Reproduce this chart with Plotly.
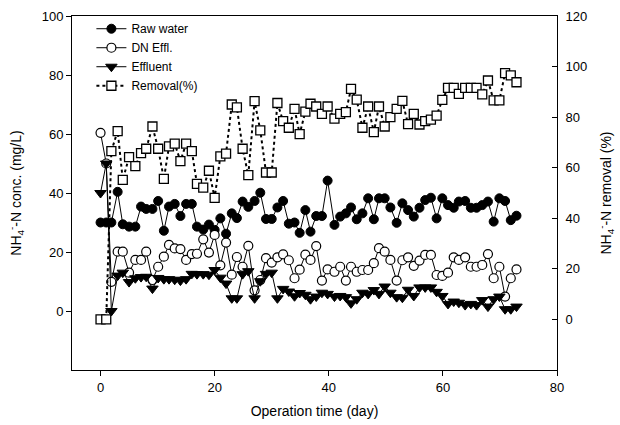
import plotly.graph_objects as go

days = [0, 1.0, 1.9, 3.0, 3.9, 5.0, 6.1, 7.1, 8.0, 9.1, 10.1, 11.1, 12.0, 13.0, 14.0,
        15.0, 16.0, 16.9, 18.0, 19.0, 20.0, 21.0, 22.0, 23.0, 23.9, 24.9, 25.9, 27.0,
        28.0, 29.0, 30.0, 31.0, 32.0, 33.0, 34.0, 34.9, 35.9, 36.8, 37.8, 38.8, 39.8,
        41.0, 42.0, 43.0, 43.9, 44.9, 45.9, 46.9, 47.9, 48.8, 49.8, 50.8, 51.9, 52.9,
        53.9, 54.9, 55.9, 56.9, 57.9, 58.9, 59.9, 60.9, 61.9, 62.8, 63.9, 64.9, 65.9,
        66.9, 67.9, 68.9, 69.9, 70.9, 71.9, 72.9]

raw_water = [30, 30, 30, 40.4, 29.4, 28.6, 28.6, 35.4, 34.6, 34.6,
             37.3, 27.2, 35.4, 36.3, 32.2, 36.3, 36.3, 28.6, 27.6, 29.3,
             27.5, 31.4, 26.2, 33.1, 31.5, 37.1, 35.3, 37.3, 40.1, 31.2,
             31.2, 35.1, 37.3, 29.6, 30.0, 26.5, 34.2, 26.9, 32.2, 32.2,
             44.2, 29.2, 32.0, 33.1, 35.1, 31.1, 33.1, 38.2, 31.1, 38.2,
             38.2, 35.1, 29.9, 36.5, 34.2, 32.0, 35.0, 37.6, 38.4, 31.4,
             38.2, 35.9, 35.0, 37.1, 37.3, 35.0, 35.0, 35.9, 37.1, 30.3,
             38.2, 37.3, 30.8, 32.3]

dn_effl = [60.4, 50, 9.9, 20.1, 20.1, 13, 17.3, 17.3, 20.1, 10.5,
           15, 18.4, 22.4, 21.2, 21.0, 17.3, 19.3, 19.4, 24.3, 19.8,
           25.8, 15.5, 23.2, 12.3, 18.3, 15.0, 22.1, 7.0, 10.5, 17.9,
           16.4, 18.2, 19.2, 17.2, 11.1, 14.0, 19.1, 17.3, 22.0, 10.3,
           14.1, 13.3, 15.0, 10.3, 15.0, 13.3, 13.9, 13.9, 16.2, 21.3,
           20.1, 17.3, 10.3, 17.2, 18.2, 15.3, 17.1, 19.0, 19.0, 12.2,
           11.9, 13.0, 18.2, 17.3, 18.2, 15.0, 15.0, 15.6, 19.3, 11.1,
           15.0, 4.9, 11.1, 14.1]

effluent = [40, 50, 0, 12, 13, 9.8, 11.1, 11.5, 11.6, 7.6,
            11.2, 10.8, 10.8, 10.6, 10.3, 10.8, 12.6, 12.5, 12.5, 12.3,
            13.9, 11.3, 9.3, 4.3, 4.3, 12.5, 13.5, 4.3, 10.1, 12.6,
            13.0, 4.3, 7.5, 6.6, 5.0, 6.1, 5.5, 4.0, 4.9, 6.2,
            5.8, 4.9, 5.1, 4.7, 2.6, 4.0, 6.2, 5.8, 7.1, 5.8,
            8.3, 6.2, 4.7, 4.5, 7.2, 5.1, 8.0, 8.0, 8.0, 6.5,
            5.1, 2.4, 3.2, 2.8, 2.0, 2.4, 2.0, 3.7, 1.5, 4.0,
            4.9, 0.6, 0.6, 1.5]

removal = [0, 0, 66.6, 74.5, 55.2, 64.2, 60.6, 65.8, 67.5, 76.3,
           67.5, 55.6, 68.4, 69.5, 62.6, 69.5, 66.6, 53.6, 52.1, 58.8,
           48.1, 64.5, 65.6, 85.0, 83.9, 67.5, 57.1, 86.3, 74.8, 58.1,
           58.1, 85.6, 78.4, 75.8, 83.3, 73.3, 82.2, 85.3, 84.2, 81.3,
           84.2, 79.4, 81.3, 82.0, 91.2, 86.9, 75.8, 84.2, 74.1, 84.2,
           76.3, 80.0, 83.3, 86.4, 77.2, 81.3, 77.1, 78.4, 79.0, 80.6,
           86.8, 91.6, 91.6, 89.2, 91.6, 91.6, 91.6, 89.0, 94.5, 86.6,
           86.6, 97.4, 96.5, 93.8]

x_ticks = [0, 20, 40, 60, 80]
y_ticks = [0, 20, 40, 60, 80, 100]
y2_ticks = [0, 20, 40, 60, 80, 100, 120]

FONT = "Liberation Sans, Arial, sans-serif"

fig = go.Figure()
fig.add_trace(go.Scatter(
    x=days, y=raw_water, name="Raw water", mode="lines+markers",
    line=dict(color="black", width=1),
    marker=dict(symbol="circle", size=9, color="black", line=dict(color="black", width=1))))
fig.add_trace(go.Scatter(
    x=days, y=dn_effl, name="DN Effl.", mode="lines+markers",
    line=dict(color="black", width=1),
    marker=dict(symbol="circle", size=9, color="white", line=dict(color="black", width=1.2))))
fig.add_trace(go.Scatter(
    x=days, y=effluent, name="Effluent", mode="lines+markers",
    line=dict(color="black", width=1),
    marker=dict(symbol="triangle-down", size=10, color="black", line=dict(color="black", width=1))))
fig.add_trace(go.Scatter(
    x=days, y=removal, name="Removal(%)", mode="lines+markers", yaxis="y2",
    line=dict(color="black", width=2, dash="dot"),
    marker=dict(symbol="square", size=9, color="white", line=dict(color="black", width=1.3))))

fig.update_layout(
    width=620, height=425,
    margin=dict(l=72, r=63, t=16, b=55),
    paper_bgcolor="white", plot_bgcolor="white",
    font=dict(family=FONT, size=13, color="black"),
    showlegend=True,
    legend=dict(x=0.04, y=1.005, xanchor="left", yanchor="top",
                bgcolor="rgba(0,0,0,0)", borderwidth=0,
                font=dict(size=12), itemwidth=30, tracegroupgap=0),
    xaxis=dict(range=[-5, 80], tickvals=x_ticks, showgrid=False, zeroline=False,
               showline=True, linecolor="black", linewidth=1, mirror=True,
               ticks="outside", ticklen=5, tickcolor="black", automargin=False,
               title=dict(text="Operation time (day)", font=dict(size=14), standoff=12)),
    yaxis=dict(range=[-20, 100], tickvals=y_ticks, showgrid=False, zeroline=False,
               showline=True, linecolor="black", linewidth=1,
               ticks="outside", ticklen=5, tickcolor="black", automargin=False,
               title=dict(text="NH<sub>4</sub><sup>-</sup>-N conc. (mg/L)", font=dict(size=14), standoff=16)),
    yaxis2=dict(range=[-20, 120], tickvals=y2_ticks, overlaying="y", side="right",
                showgrid=False, zeroline=False,
                showline=True, linecolor="black", linewidth=1,
                ticks="inside", ticklen=5, tickcolor="black", automargin=False,
                ticklabelstandoff=5,
                title=dict(text="NH<sub>4</sub><sup>-</sup>-N removal (%)", font=dict(size=14), standoff=14)),
)

fig.write_html("out.html")
